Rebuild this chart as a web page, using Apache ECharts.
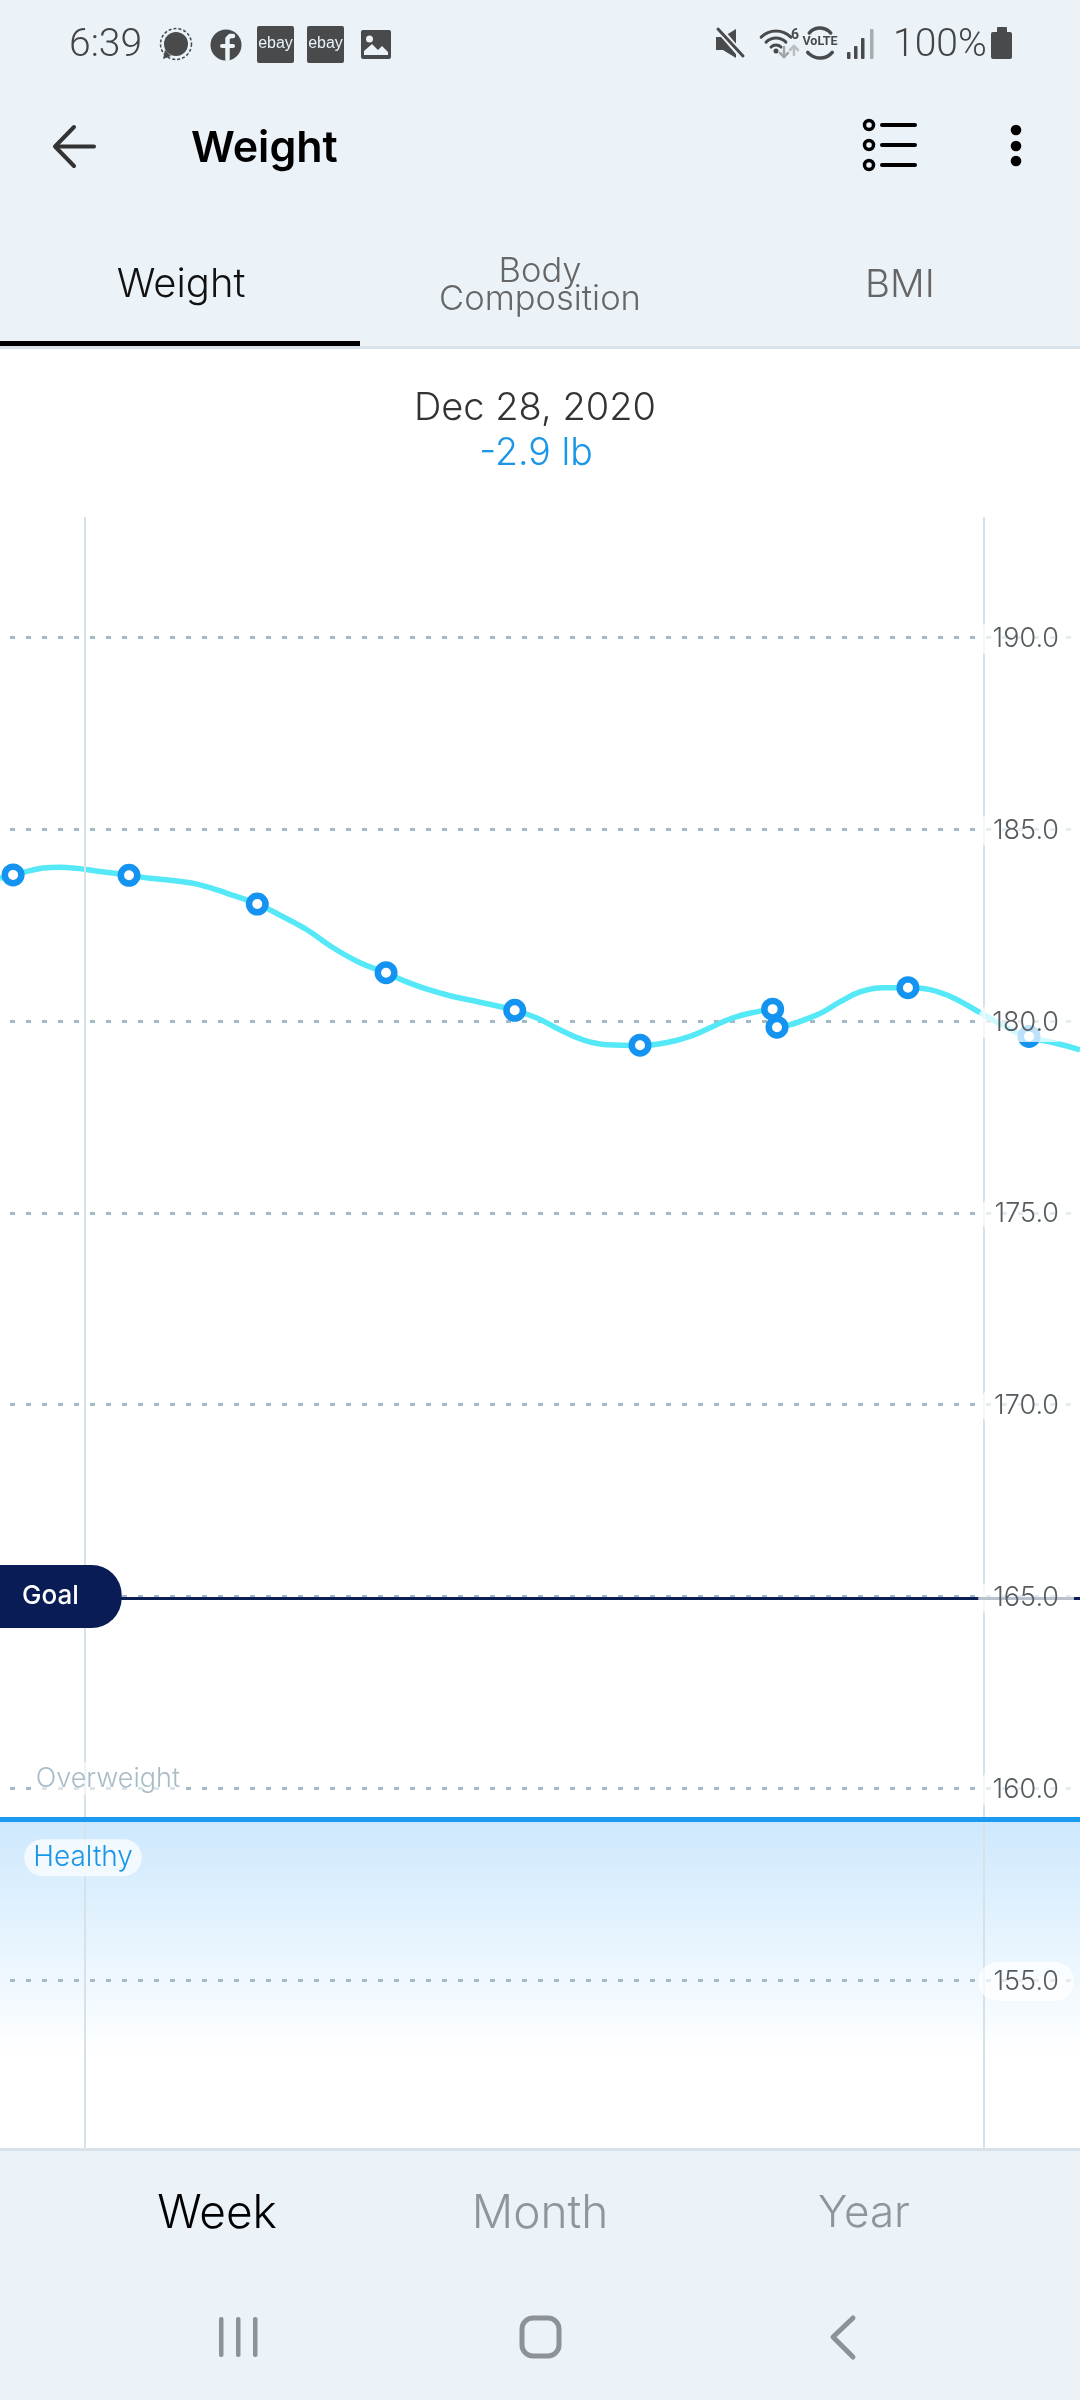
<!DOCTYPE html>
<html>
<head>
<meta charset="utf-8">
<title>Weight</title>
<style>html,body{margin:0;padding:0;background:#fff}#chart{width:1080px;height:2400px}</style>
<script src="https://cdn.jsdelivr.net/npm/echarts@6/dist/echarts.min.js"></script>
</head>
<body>
<div id="chart"></div>
<script>
// ---- data ----
var yTicks = [155, 160, 165, 170, 175, 180, 185, 190];
var weekBoundaries = [0, 7];
var measuredDays = [-0.558, 0.345, 1.344, 2.347, 3.349, 4.325, 5.358, 5.392, 6.412, 7.355];
var measuredWeights = [183.81, 183.80, 183.05, 181.26, 180.28, 179.37, 180.31, 179.84, 180.87, 179.60];
var trendDays = [-0.66,-0.558,-0.426,-0.325,-0.192,-0.06,0.119,0.345,0.508,0.718,0.898,1.108,1.344,1.544,1.731,1.934,2.144,2.347,2.479,2.666,2.868,3.079,3.349,3.522,3.702,3.881,4.068,4.325,4.535,4.714,4.893,5.049,5.205,5.358,5.392,5.703,5.882,6.038,6.217,6.412,6.583,6.763,6.973,7.183,7.355,7.542,7.752];
var trendWeights = [183.72,183.81,183.92,183.99,184.01,183.98,183.90,183.80,183.72,183.65,183.55,183.33,183.05,182.72,182.38,181.91,181.52,181.26,181.06,180.83,180.64,180.49,180.28,180.08,179.77,179.51,179.38,179.36,179.44,179.60,179.86,180.08,180.22,180.31,179.84,180.16,180.50,180.76,180.87,180.87,180.82,180.61,180.22,179.83,179.57,179.44,179.25];
var goalWeight = 164.96;
var healthyLimit = 159.2;
var healthyFadeEnd = 153.0;
var dayMin = -0.66, dayMax = 7.752;
var weightMin = 150, weightMax = 193.14;
var tabs = ['Weight', 'Body', 'Composition', 'BMI'];
var ranges = ['Week', 'Month', 'Year'];

// ---- chrome helpers ----
var DARK = '#484a4c', PANEL = '#ebf2f8', RULE = '#d8e2ea', NAV = '#8d9296';
var FONT = 'Inter, "Open Sans", sans-serif', ROBOTO = 'Roboto, sans-serif';
var Z = 100;
function rect(x, y, w, h, fill, r, z) { return {type:'rect', z:z||Z, silent:true, shape:{x:x,y:y,width:w,height:h,r:r||0}, style:{fill:fill}}; }
function sRect(x, y, w, h, stroke, lw, r) { return {type:'rect', z:Z+1, silent:true, shape:{x:x,y:y,width:w,height:h,r:r||0}, style:{fill:'none',stroke:stroke,lineWidth:lw}}; }
function poly(pts, stroke, lw) { return {type:'polyline', z:Z+1, silent:true, shape:{points:pts}, style:{stroke:stroke,lineWidth:lw,fill:'none',lineCap:'round',lineJoin:'round'}}; }
function fillPoly(pts, fill) { return {type:'polygon', z:Z+1, silent:true, shape:{points:pts}, style:{fill:fill}}; }
function circ(x, y, r, fill, stroke, lw, dash) { return {type:'circle', z:Z+1, silent:true, shape:{cx:x,cy:y,r:r}, style:{fill:fill||'none',stroke:stroke||'none',lineWidth:lw||0,lineDash:dash||null}}; }
function arc(x, y, r, a0, a1, stroke, lw) { return {type:'arc', z:Z+1, silent:true, shape:{cx:x,cy:y,r:r,startAngle:a0*Math.PI/180,endAngle:a1*Math.PI/180,clockwise:true}, style:{stroke:stroke,lineWidth:lw,fill:'none',lineCap:'round'}}; }
function txt(x, y, s, font, fill, align) { return {type:'text', z:Z+2, silent:true, style:{x:x,y:y,text:s,font:font,fill:fill,textAlign:align||'center',textVerticalAlign:'middle'}}; }

var chrome = [
  rect(0, 0, 1080, 346, PANEL), rect(0, 346, 1080, 3, RULE), rect(0, 341, 360, 5, '#000000'),
  rect(0, 2148, 1080, 252, PANEL), rect(0, 2148, 1080, 3, RULE),
  // status bar
  txt(69, 46, '6:39', '300 39px ' + ROBOTO, '#444444', 'left'),
  circ(176, 44, 12, DARK), circ(176, 44, 15.5, 'none', DARK, 1.5, [3, 2]),
  fillPoly([[163,59],[165,50],[171,56]], DARK),
  circ(226, 45, 15.5, DARK),
  poly([[233,36],[230,36],[227.5,38.5],[227.5,59]], PANEL, 4.5), poly([[222,46],[233,46]], PANEL, 4),
  rect(257, 26, 37, 37, DARK, 2, Z+1), txt(275.5, 44, 'ebay', '16px "Liberation Sans"', PANEL),
  rect(307, 26, 37, 37, DARK, 2, Z+1), txt(325.5, 44, 'ebay', '16px "Liberation Sans"', PANEL),
  rect(361, 30, 30, 29, DARK, 2, Z+1), circ(369.5, 39, 3.5, PANEL),
  fillPoly([[364,55],[364,51],[372,44],[378,50],[382,46],[388,52],[388,55]], PANEL),
  fillPoly([[716,37],[723,37],[736,29],[736,58],[723,50],[716,50]], DARK),
  poly([[717,27],[743,57]], PANEL, 7), poly([[718,29],[743,56]], DARK, 3),
  arc(776, 52, 21, 225, 315, DARK, 3), arc(776, 52, 14, 225, 315, DARK, 3), arc(776, 52, 7, 225, 315, DARK, 3),
  circ(776, 51, 2.5, DARK),
  txt(795, 35, '6', 'bold 14px ' + ROBOTO, DARK),
  poly([[784,47],[784,57]], '#a4a7a9', 2.5), poly([[780,53],[784,57],[788,53]], '#a4a7a9', 2.5),
  poly([[794,46],[794,55]], '#bcbfc1', 2.5), poly([[790,50],[794,46],[798,50]], '#bcbfc1', 2.5),
  arc(820, 42, 14, 220, 320, DARK, 3.5), arc(820, 42, 16, 40, 140, DARK, 3.5),
  txt(820, 42, 'VoLTE', 'bold 12.5px ' + ROBOTO, DARK),
  rect(847, 52, 3.5, 7, DARK, 1, Z+1), rect(854, 46, 3.5, 13, DARK, 1, Z+1), rect(861, 38, 3.5, 21, DARK, 1, Z+1), rect(870, 29, 3.5, 30, '#a9acae', 1, Z+1),
  txt(893, 46, '100%', '300 39px ' + ROBOTO, '#444444', 'left'),
  rect(991, 32, 21, 27, DARK, 2, Z+1), rect(997, 27, 10, 6, DARK, 1, Z+1),
  // app bar
  poly([[74,127],[55,146.5],[74,166]], '#333333', 4), poly([[56,146.5],[94,146.5]], '#333333', 4),
  txt(191, 149, 'Weight', '600 43px ' + FONT, '#000000', 'left'),
  circ(869, 125, 4.5, 'none', '#000', 3.5), circ(869, 145, 4.5, 'none', '#000', 3.5), circ(869, 165, 4.5, 'none', '#000', 3.5),
  poly([[882,125],[915,125]], '#000', 4), poly([[882,145],[915,145]], '#000', 4), poly([[882,165],[915,165]], '#000', 4),
  circ(1016, 130, 5.3, '#000'), circ(1016, 146, 5.3, '#000'), circ(1016, 161, 5.3, '#000'),
  // tabs
  txt(181, 285, tabs[0], '300 40px ' + FONT, '#111111'),
  txt(540, 272, tabs[1], '300 34.5px ' + FONT, '#666666'),
  txt(540, 300, tabs[2], '300 34.5px ' + FONT, '#666666'),
  txt(900, 285, tabs[3], '300 38.5px ' + FONT, '#666666'),
  // selected day
  txt(535, 409, 'Dec 28, 2020', '300 38px ' + FONT, '#333333'),
  txt(536, 454, '-2.9 lb', '300 37.5px ' + FONT, '#1b96e6'),
  // range selector
  txt(217, 2214, ranges[0], '300 46px ' + FONT, '#000000'),
  txt(540, 2214, ranges[1], '300 46px ' + FONT, '#8f9598'),
  txt(864, 2214, ranges[2], '300 44px ' + FONT, '#8f9598'),
  // nav bar
  rect(219, 2317, 4.5, 40, NAV, 2, Z+1), rect(236, 2317, 4.5, 40, NAV, 2, Z+1), rect(253, 2317, 4.5, 40, NAV, 2, Z+1),
  sRect(522, 2318, 37, 38, NAV, 5, 11),
  poly([[853,2318],[833,2337],[853,2357]], NAV, 5)
];

var chart = echarts.init(document.getElementById('chart'), null, {renderer: 'canvas', width: 1080, height: 2400});
var plotHeight = 1654.8;
chart.setOption({
  animation: false,
  backgroundColor: '#ffffff',
  grid: [
    {left: 0, right: 0, top: 517, height: plotHeight},
    {left: 10, right: 7, top: 517, height: plotHeight},
    {left: 0, right: 0, top: 518.5, height: plotHeight}
  ],
  xAxis: [
    {type: 'value', gridIndex: 0, min: dayMin, max: dayMax, show: false},
    {type: 'value', gridIndex: 1, min: dayMin, max: dayMax, show: false},
    {type: 'value', gridIndex: 2, min: dayMin, max: dayMax, show: false}
  ],
  yAxis: [
    {type: 'value', gridIndex: 0, min: weightMin, max: weightMax, interval: 5, show: false},
    {
      type: 'value', gridIndex: 1, position: 'right', min: weightMin, max: weightMax, interval: 5, z: 2,
      axisLine: {show: false}, axisTick: {show: false}, axisLabel: {show: false},
      splitLine: {show: true, showMinLine: false, showMaxLine: false, lineStyle: {color: '#a3b9c6', width: 3, type: [5, 11]}}
    },
    {
      type: 'value', gridIndex: 2, position: 'right', min: weightMin, max: weightMax, interval: 5, z: 10,
      axisLine: {show: false}, axisTick: {show: false}, splitLine: {show: false},
      axisLabel: {
        show: true, inside: true, margin: 6, align: 'right', verticalAlign: 'middle',
        showMinLabel: false, showMaxLabel: false,
        fontFamily: 'Inter', fontWeight: 300, fontSize: 27, color: '#555b5f',
        backgroundColor: 'rgba(255,255,255,0.72)', padding: [6, 15, 6, 15], borderRadius: 19,
        formatter: function (v) { return yTicks.indexOf(v) >= 0 ? v.toFixed(1) : ''; }
      }
    }
  ],
  graphic: {elements: chrome},
  series: [
    {
      name: 'Reference', type: 'line', xAxisIndex: 0, yAxisIndex: 0, data: [], z: 1, silent: true,
      markArea: {
        silent: true,
        itemStyle: {color: new echarts.graphic.LinearGradient(0, 0, 0, 1, [{offset: 0, color: '#cde8fd'}, {offset: 1, color: '#ffffff'}])},
        data: [[{coord: [dayMin, healthyLimit]}, {coord: [dayMax, healthyFadeEnd]}]]
      },
      markLine: {
        silent: true, symbol: 'none', label: {show: false},
        data: weekBoundaries.map(function (d) {
          return {xAxis: d, lineStyle: {color: '#d6e2e9', width: 2, type: 'solid'}};
        }).concat([
          [{coord: [dayMin, healthyLimit], lineStyle: {color: '#1a9bf0', width: 5, type: 'solid'}}, {coord: [dayMax, healthyLimit]}],
          [{coord: [dayMin, goalWeight], lineStyle: {color: '#0c1f55', width: 3, type: 'solid'}}, {coord: [dayMax, goalWeight]}]
        ])
      }
    },
    {
      name: 'Weight trend', type: 'line', xAxisIndex: 0, yAxisIndex: 0, z: 3, smooth: 0.4, showSymbol: false, silent: true,
      lineStyle: {color: '#55e8f7', width: 5.5},
      data: trendDays.map(function (d, i) { return [d, trendWeights[i]]; })
    },
    {
      name: 'Weigh-ins', type: 'scatter', xAxisIndex: 0, yAxisIndex: 0, z: 4, silent: true,
      symbol: 'circle', symbolSize: 16.5,
      itemStyle: {color: '#ffffff', borderColor: '#1493f0', borderWidth: 6.5, opacity: 1},
      data: measuredDays.map(function (d, i) { return [d, measuredWeights[i]]; }),
      markPoint: {
        silent: true, symbol: 'circle', symbolSize: 0.01, itemStyle: {color: 'transparent'},
        data: [
          {coord: [dayMin, 165], label: {show: true, position: 'right', distance: 0, formatter: 'Goal', color: '#ffffff', fontFamily: 'Inter', fontWeight: 500, fontSize: 26, lineHeight: 26, backgroundColor: '#0a1c55', padding: [21, 43, 16, 22], borderRadius: [0, 30, 30, 0]}},
          {coord: [0.18, 160.25], label: {show: true, position: 'inside', formatter: 'Overweight', color: '#a8bcc8', fontFamily: 'Inter', fontWeight: 300, fontSize: 27, backgroundColor: 'rgba(255,255,255,0.6)', padding: [4, 2, 2, 2]}},
          {coord: [-0.013, 158.19], label: {show: true, position: 'inside', formatter: 'Healthy', color: '#1a96e6', fontFamily: 'Inter', fontWeight: 300, fontSize: 28, backgroundColor: 'rgba(255,255,255,0.7)', padding: [6, 9, 3, 9], borderRadius: 19}}
        ]
      }
    }
  ]
});
</script>
</body>
</html>
